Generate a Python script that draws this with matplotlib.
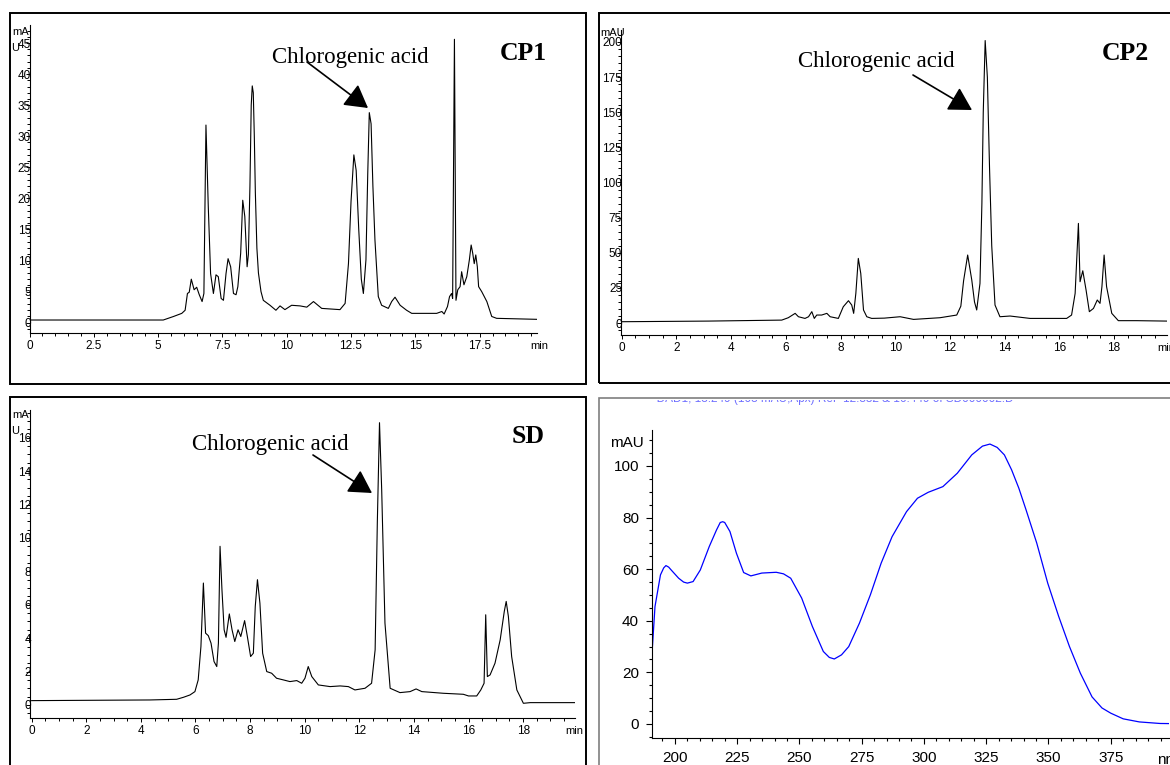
import matplotlib
matplotlib.use("Agg")
import matplotlib.pyplot as plt
from matplotlib.patches import Rectangle, FancyArrowPatch
from matplotlib.ticker import MultipleLocator, FuncFormatter
from matplotlib.transforms import Bbox, TransformedBbox

plt.rcParams['font.family'] = ['Liberation Sans', 'DejaVu Sans']

# --- data ---
cp1_t = [0, 5.2, 5.6, 5.92, 6.05, 6.14, 6.21, 6.29, 6.4, 6.5, 6.6, 6.71, 6.78, 6.86, 6.95,
         7.04, 7.15, 7.25, 7.34, 7.45, 7.54, 7.64, 7.72, 7.82, 7.93, 8.03, 8.1, 8.21, 8.29,
         8.37, 8.46, 8.51, 8.57, 8.62, 8.66, 8.7, 8.74, 8.78, 8.84, 8.9, 9.0, 9.09, 9.35,
         9.58, 9.74, 9.93, 10.19, 10.52, 10.78, 11.04, 11.36, 12.07, 12.27, 12.4, 12.5,
         12.61, 12.7, 12.8, 12.9, 12.98, 13.08, 13.15, 13.21, 13.28, 13.35, 13.43, 13.56,
         13.69, 13.95, 14.08, 14.21, 14.41, 14.66, 14.86, 15.31, 15.83, 16.03, 16.12, 16.25,
         16.33, 16.41, 16.45, 16.52, 16.58, 16.65, 16.74, 16.8, 16.89, 17.0, 17.1, 17.17,
         17.23, 17.29, 17.35, 17.41, 17.46, 17.58, 17.78, 17.97, 18.16, 19.72]
cp1_mau = [0.43, 0.43, 1.0, 1.5, 2.0, 4.7, 4.9, 7.0, 5.3, 5.7, 4.5, 3.4, 4.7, 31.8, 18.7,
           7.9, 4.7, 7.7, 7.4, 3.9, 3.6, 7.9, 10.3, 9.0, 4.7, 4.5, 5.8, 11.2, 19.7,
           17.1, 9.0, 11.0, 22.0, 35.0, 38.1, 37.0, 30.0, 21.0, 12.0, 8.0, 5.0, 3.6, 2.8,
           2.0, 2.7, 2.1, 2.8, 2.7, 2.5, 3.4, 2.3, 2.1, 3.1, 9.5, 19.5,
           27.0, 24.5, 15.0, 7.0, 4.7, 10.1, 24.0, 33.8, 32.0, 22.0, 13.3, 4.2,
           2.8, 2.3, 3.4, 4.1, 2.8, 2.0, 1.5, 1.5, 1.5, 1.8, 1.4, 2.6,
           4.2, 4.7, 3.9, 45.6, 3.6, 5.3, 5.8, 8.2, 6.1, 7.4, 10.1, 12.5,
           11.2, 9.5, 10.9, 9.0, 5.8, 5.0, 3.4, 1.0, 0.7, 0.54]

cp2_t = [0, 3.17, 5.85, 6.09, 6.34, 6.46, 6.7, 6.83, 6.95, 7.04, 7.13, 7.31, 7.5, 7.62,
         7.92, 8.1, 8.29, 8.41, 8.48, 8.56, 8.65, 8.74, 8.84, 8.96, 9.14, 9.6, 10.18,
         10.67, 11.64, 12.25, 12.4, 12.5, 12.65, 12.8, 12.9, 12.98, 13.1, 13.17, 13.22,
         13.29, 13.37, 13.45, 13.53, 13.65, 13.83, 14.2, 14.93, 16.27, 16.45, 16.58, 16.7,
         16.76, 16.86, 16.98, 17.1, 17.25, 17.39, 17.49, 17.56, 17.64, 17.73, 17.92, 18.16,
         18.83, 19.93]
cp2_mau = [0.95, 1.4, 2.1, 3.8, 6.9, 4.5, 3.3, 4.5, 8.1, 3.3, 5.7, 5.7, 6.9, 4.5,
           3.3, 11.6, 15.9, 12.8, 6.9, 21.1, 46.0, 35.3, 9.3, 4.5, 3.3, 3.5, 4.5,
           2.6, 3.8, 5.7, 12.0, 30.0, 48.4, 30.6, 15.0, 9.3, 28.2, 85.0, 150.0,
           201.0, 175.0, 110.0, 55.0, 12.8, 4.5, 5.0, 3.3, 3.3, 5.7, 21.1, 70.9,
           29.4, 37.2, 23.5, 8.1, 10.4, 16.4, 14.0, 25.9, 48.4, 25.9, 6.9, 1.7,
           1.7, 1.4]

sd_t = [0, 4.33, 5.31, 5.56, 5.8, 5.98, 6.1, 6.2, 6.29, 6.37, 6.47, 6.57, 6.68, 6.78,
        6.84, 6.9, 6.97, 7.05, 7.12, 7.24, 7.34, 7.44, 7.56, 7.66, 7.8, 7.9, 8.02, 8.12,
        8.19, 8.27, 8.36, 8.46, 8.61, 8.79, 8.97, 9.22, 9.46, 9.71, 9.89, 10.01, 10.13,
        10.26, 10.5, 10.93, 11.3, 11.6, 11.84, 12.21, 12.45, 12.58, 12.66, 12.74, 12.82,
        12.94, 13.13, 13.49, 13.86, 14.08, 14.29, 15.08, 15.81, 16.0, 16.3, 16.45, 16.57,
        16.63, 16.69, 16.79, 16.97, 17.16, 17.31, 17.38, 17.46, 17.58, 17.77, 18.01,
        18.26, 19.91]
sd_mau = [0.26, 0.3, 0.34, 0.46, 0.6, 0.8, 1.5, 3.5, 7.3, 4.3, 4.15, 3.7, 2.6, 2.3,
          3.7, 9.5, 6.9, 4.5, 4.05, 5.45, 4.5, 3.8, 4.5, 4.1, 5.05, 4.1, 2.9, 3.1,
          5.9, 7.5, 6.1, 3.1, 2.0, 1.9, 1.6, 1.5, 1.4, 1.46, 1.3, 1.6, 2.3,
          1.7, 1.2, 1.1, 1.14, 1.1, 0.9, 1.0, 1.3, 3.3, 10.9, 16.9, 12.9,
          4.9, 1.0, 0.74, 0.8, 0.96, 0.8, 0.7, 0.64, 0.54, 0.54, 0.9, 1.3,
          5.4, 1.7, 1.8, 2.5, 3.9, 5.6, 6.2, 5.3, 2.9, 0.9, 0.1,
          0.14, 0.14]

uv_nm = [190.3, 192, 194.2, 195.5, 196.4, 197.5, 198.5, 201.5, 203.5, 205, 207.3, 210.2,
         213.8, 216.7, 218.2, 219.2, 220, 222.1, 224.7, 227.6, 230.5, 234.9, 240.7, 243.6,
         246.5, 250.9, 255.2, 259.6, 262, 264, 266.9, 269.8, 274.1, 278.5, 282.8, 287.2,
         293, 297.4, 301.7, 307.6, 313.4, 319.2, 323.5, 326.5, 329.4, 332.3, 335.2, 338.1,
         341, 345.3, 349.7, 354.1, 358.4, 362.8, 367.5, 371.5, 375, 380, 386.5, 394.8, 403]
uv_mau = [19.7, 45.5, 57.8, 60.5, 61.4, 60.8, 59.7, 56.5, 55.0, 54.6, 55.2, 59.7,
          68.8, 75.2, 78.1, 78.4, 78.1, 74.6, 66.2, 58.7, 57.4, 58.5, 58.8, 58.2,
          56.5, 48.8, 37.8, 28.1, 25.8, 25.2, 26.8, 30.0, 39.1, 50.1, 62.3, 72.6,
          82.3, 87.5, 89.8, 92.0, 97.2, 104.3, 107.7, 108.5, 107.2, 104.3, 98.5, 91.4,
          83.0, 70.1, 54.6, 41.7, 30.1, 19.7, 10.5, 6.2, 4.2, 2.0, 0.8, 0.2, 0.1]

panel_names = ['CP1', 'CP2', 'SD']
peak_label = 'Chlorogenic acid'

W, H = 1170, 765
fig = plt.figure(figsize=(W / 100, H / 100), dpi=100)


def fpos(px, py):
    return (px / W, 1 - py / H)


def add_frame(left, top, right, bottom, color='black', lw=1.4):
    fig.add_artist(Rectangle(fpos(left, bottom), (right - left) / W, (bottom - top) / H,
                             transform=fig.transFigure, fill=False, ec=color, lw=lw))


def axes_px(left, top, right, bottom):
    ax = fig.add_axes([left / W, 1 - bottom / H, (right - left) / W, (bottom - top) / H])
    ax.patch.set_alpha(0)
    for s in ['top', 'right']:
        ax.spines[s].set_visible(False)
    return ax


def style_chrom(ax, xmaj, ymaj, ymin):
    ax.xaxis.set_major_locator(MultipleLocator(xmaj))
    ax.xaxis.set_minor_locator(MultipleLocator(0.5))
    ax.yaxis.set_major_locator(MultipleLocator(ymaj))
    ax.yaxis.set_minor_locator(MultipleLocator(ymin))
    fmt = FuncFormatter(lambda v, p: f'{v:g}')
    ax.xaxis.set_major_formatter(fmt)
    ax.yaxis.set_major_formatter(fmt)
    ax.tick_params(which='both', direction='out', width=0.7, labelsize=8.5, color='black')
    ax.tick_params(which='major', length=3)
    ax.tick_params(which='minor', length=2)
    ax.tick_params(axis='y', pad=-4)
    ax.tick_params(axis='x', pad=2)
    for s in ['left', 'bottom']:
        ax.spines[s].set_linewidth(0.8)


def fig_text(px, py, s, **kw):
    return fig.text(*fpos(px, py), s, **kw)


def arrow(p0, p1):
    fig.add_artist(FancyArrowPatch(fpos(*p0), fpos(*p1), transform=fig.transFigure,
                                   arrowstyle='-|>,head_length=14,head_width=8',
                                   mutation_scale=1, lw=1.2, color='black',
                                   shrinkA=0, shrinkB=0))


serif = ['Liberation Serif', 'DejaVu Serif']

# frames
add_frame(10, 13, 586, 384)
add_frame(599, 13, 1185, 383)
add_frame(10, 397, 586, 790)
add_frame(599, 398, 1185, 790, color='#7f7f7f', lw=1.2)

# CP1
ax1 = axes_px(29.5, 25, 537, 333)
ax1.plot(cp1_t, cp1_mau, color='black', lw=0.8)
ax1.set_xlim(0, 19.73)
ax1.set_ylim(-1.66, 47.9)
style_chrom(ax1, 2.5, 5, 1)
fig_text(12, 35, 'mA', fontsize=8)
fig_text(11, 51, 'U', fontsize=8)
fig_text(530, 346, 'min', fontsize=8, va='center')
fig_text(272, 63, peak_label, fontsize=16.5, family=serif)
fig_text(500, 60, panel_names[0], fontsize=18.5, family=serif, weight='bold')
arrow((307, 62), (368, 108))

# CP2
ax2 = axes_px(620.7, 30, 1167, 335)
ax2.plot(cp2_t, cp2_mau, color='black', lw=0.8)
ax2.set_xlim(-0.04, 19.94)
ax2.set_ylim(-8.5, 208.5)
style_chrom(ax2, 2, 25, 5)
fig_text(600, 36, 'mAU', fontsize=8)
fig_text(1157, 348, 'min', fontsize=8, va='center')
fig_text(798, 67, peak_label, fontsize=16.5, family=serif)
fig_text(1102, 60, panel_names[1], fontsize=18.5, family=serif, weight='bold')
arrow((913, 75), (972, 110))

# SD
ax3 = axes_px(30, 410, 575, 718)
ax3.plot(sd_t, sd_mau, color='black', lw=0.8)
ax3.set_xlim(-0.06, 19.9)
ax3.set_ylim(-0.78, 17.66)
style_chrom(ax3, 2, 2, 0.5)
fig_text(12, 418, 'mA', fontsize=8)
fig_text(11, 434, 'U', fontsize=8)
fig_text(565, 731, 'min', fontsize=8, va='center')
fig_text(192, 450, peak_label, fontsize=16.5, family=serif)
fig_text(512, 443, panel_names[2], fontsize=18.5, family=serif, weight='bold')
arrow((313, 455), (372, 493))

# UV spectrum
ax4 = axes_px(651.5, 430, 1169, 738)
ax4.plot(uv_nm, uv_mau, color='#0000ff', lw=0.9)
ax4.set_xlim(190.6, 398.4)
ax4.set_ylim(-5.43, 113.95)
ax4.xaxis.set_major_locator(MultipleLocator(25))
ax4.xaxis.set_minor_locator(MultipleLocator(5))
ax4.yaxis.set_major_locator(MultipleLocator(20))
ax4.yaxis.set_minor_locator(MultipleLocator(5))
ax4.tick_params(which='both', direction='out', width=0.8, labelsize=11)
ax4.tick_params(which='major', length=4.5)
ax4.tick_params(which='minor', length=2.5)
ax4.tick_params(axis='y', pad=4.5)
ax4.tick_params(axis='x', pad=4.5)
fig_text(610, 447, 'mAU', fontsize=11)
fig_text(1157, 760, 'nm', fontsize=11, va='center')

# cropped spectrum header, only its lower edge shows
hdr = fig_text(652, 402, '*DAD1, 13.249 (108 mAU,Apx) Ref=12.882 & 16.449 of SD000002.D',
               fontsize=8.5, color='#7070ff')
hdr.set_clip_box(TransformedBbox(Bbox([[599 / W, 0], [1, 1 - 400 / H]]), fig.transFigure))
hdr.set_clip_on(True)

fig.savefig('out.png', dpi=100)
